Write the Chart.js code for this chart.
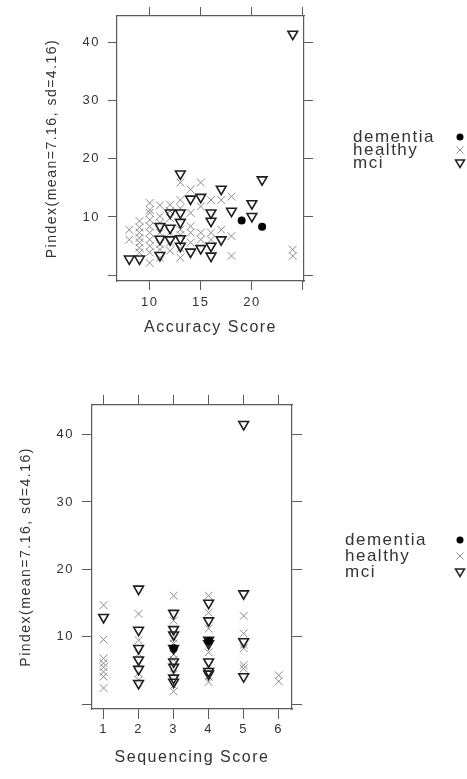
<!DOCTYPE html>
<html>
<head>
<meta charset="utf-8">
<script src="https://cdn.jsdelivr.net/npm/chart.js@4.4.1/dist/chart.umd.min.js"></script>
<style>
  body { margin: 0; background: #fff; }
  canvas { position: absolute; left: 0; }
  #accChart { top: 0; }
  #seqChart { top: 389px; }
</style>
</head>
<body>
<canvas id="accChart" width="467" height="389"></canvas>
<canvas id="seqChart" width="467" height="390"></canvas>
<script>
// groups and ticks
var groups = ['dementia', 'healthy', 'mci'];
var pindexTicks = [0, 10, 20, 30, 40];
var accuracyTicks = [10, 15, 20, 25];
var sequencingTicks = [1, 2, 3, 4, 5, 6];

// Accuracy Score panel
var accDementiaX = [19, 21];
var accDementiaY = [9.4, 8.3];
var accHealthyX = [8, 8,
  9, 9, 9, 9, 9, 9, 9,
  10, 10, 10, 10, 10, 10, 10, 10, 10, 10,
  11, 11, 11, 11, 11, 11, 11,
  12, 12, 12, 12, 12, 12,
  13, 13, 13, 13, 13, 13, 13,
  14, 14, 14, 14, 14,
  15, 15, 15, 15,
  16, 16, 16,
  17, 17,
  18, 18, 18,
  24, 24];
var accHealthyY = [7.8, 6.1,
  9.3, 8.2, 7.3, 6.4, 5.6, 4.7, 3.9,
  12.4, 11.2, 10.7, 9.5, 8.4, 7.3, 6.1, 5.0, 3.9, 2.1,
  12.0, 10.1, 9.0, 7.3, 5.3, 4.4, 3.0,
  12.1, 11.0, 9.8, 7.3, 5.6, 4.2,
  15.9, 12.9, 11.5, 7.8, 6.9, 4.6, 3.0,
  14.7, 10.7, 8.4, 7.3, 5.6,
  15.9, 11.8, 7.3, 6.1,
  12.9, 7.3, 6.1,
  12.9, 7.8,
  13.5, 6.7, 3.3,
  4.4, 3.3];
var accMciX = [24, 8, 9, 11, 16, 14, 15, 16, 17, 11, 12, 13, 13, 11, 12, 12, 13, 13, 16, 16, 18, 20, 20, 21, 17, 15, 14, 13];
var accMciY = [41.4, 2.8, 2.8, 3.4, 3.3, 4.0, 4.6, 5.0, 6.1, 6.2, 6.1, 6.3, 5.0, 8.4, 8.1, 10.7, 10.7, 9.1, 10.7, 9.3, 11.0, 12.3, 10.1, 16.4, 14.8, 13.4, 13.1, 17.4];

// Sequencing Score panel
var seqDementiaX = [4, 3];
var seqDementiaY = [9.4, 8.3];
var seqHealthyX = [1, 1, 1, 1, 1, 1, 1, 1,
  2, 2, 2, 2, 2, 2,
  3, 3, 3, 3, 3, 3, 3, 3, 3,
  4, 4, 4, 4, 4, 4, 4,
  5, 5, 5, 5, 5, 5,
  6, 6];
var seqHealthyY = [14.7, 9.6, 6.8, 6.1, 5.5, 4.8, 4.1, 2.4,
  13.4, 9.5, 7.5, 6.0, 4.6, 3.6,
  16.1, 12.4, 9.8, 9.0, 7.4, 6.6, 4.5, 2.8, 1.9,
  16.1, 13.6, 11.2, 7.7, 5.7, 4.1, 3.3,
  13.1, 10.5, 8.8, 8.3, 5.8, 5.3,
  4.3, 3.4];
var seqMciX = [1,
  2, 2, 2, 2, 2, 2,
  3, 3, 3, 3, 3, 3, 3, 3,
  4, 4, 4, 4, 4, 4, 4,
  5, 5, 5, 5];
var seqMciY = [12.9,
  17.1, 11.0, 8.3, 6.6, 5.2, 3.1,
  13.5, 11.1, 10.3, 8.3, 6.3, 5.5, 3.9, 3.3,
  15.0, 12.4, 9.5, 9.0, 6.3, 4.9, 4.5,
  41.5, 16.4, 9.3, 4.1];

var FONT = '"Liberation Sans", Arial, sans-serif';
var GREY = '#5a5a5a';
var TEXT = '#333';

function pts(xs, ys) {
  return xs.map(function (x, i) { return { x: x, y: ys[i] }; });
}

function fixedTicks(list) {
  return function (scale) {
    scale.ticks = list.map(function (v) { return { value: v }; });
  };
}

function fixSize(w, h) {
  return function (scale) {
    if (w != null) scale.width = w;
    if (h != null) scale.height = h;
  };
}

function drawSymbol(ctx, g, x, y) {
  ctx.save();
  ctx.beginPath();
  if (g === 'dementia') {
    ctx.fillStyle = '#000';
    ctx.arc(x, y, 3.5, 0, Math.PI * 2);
    ctx.fill();
  } else if (g === 'healthy') {
    ctx.strokeStyle = '#8c8c8c';
    ctx.lineWidth = 1;
    ctx.moveTo(x - 3.5, y - 3.5); ctx.lineTo(x + 3.5, y + 3.5);
    ctx.moveTo(x - 3.5, y + 3.5); ctx.lineTo(x + 3.5, y - 3.5);
    ctx.stroke();
  } else {
    ctx.strokeStyle = '#222';
    ctx.lineWidth = 1.5;
    ctx.moveTo(x - 4.5, y - 3); ctx.lineTo(x + 4.5, y - 3); ctx.lineTo(x, y + 4.5);
    ctx.closePath();
    ctx.stroke();
  }
  ctx.restore();
}

// wider letter spacing like the original
var spacing = {
  id: 'spacing',
  beforeLayout: function (chart) { chart.ctx.letterSpacing = '1.5px'; },
  beforeDraw: function (chart) { chart.ctx.letterSpacing = '1.5px'; }
};

function keyPlugin(textX, symX, midY, gap) {
  return {
    id: 'key',
    afterDraw: function (chart) {
      var ctx = chart.ctx;
      ctx.save();
      ctx.font = '17px ' + FONT;
      ctx.letterSpacing = '1.5px';
      ctx.fillStyle = TEXT;
      ctx.textBaseline = 'middle';
      ctx.textAlign = 'left';
      groups.forEach(function (g, i) {
        var y = midY + (i - 1) * gap;
        ctx.fillText(g, textX, y);
        drawSymbol(ctx, g, symX, y);
      });
      ctx.restore();
    }
  };
}

function makePanel(id, p) {
  var axisGrid = { display: true, drawOnChartArea: false, drawTicks: true, tickLength: p.tickLen, color: GREY, lineWidth: 1 };
  var axisBorder = { display: true, color: GREY, width: 1.2 };
  new Chart(document.getElementById(id), {
    type: 'scatter',
    data: {
      datasets: [
        {
          label: 'dementia', data: p.dementia,
          pointStyle: 'circle', pointRadius: 4,
          backgroundColor: '#000', borderColor: '#000', borderWidth: 0
        },
        {
          label: 'mci', data: p.mci,
          pointStyle: 'triangle', pointRotation: 180, pointRadius: 5.6,
          backgroundColor: 'rgba(0,0,0,0)', borderColor: '#1e1e1e', borderWidth: 1.6
        },
        {
          label: 'healthy', data: p.healthy,
          pointStyle: 'crossRot', pointRadius: 5.5,
          backgroundColor: 'rgba(0,0,0,0)', borderColor: '#8c8c8c', borderWidth: 1
        }
      ]
    },
    options: {
      responsive: false,
      animation: false,
      events: [],
      layout: { padding: 0 },
      plugins: { legend: { display: false }, tooltip: { enabled: false } },
      scales: {
        x: {
          type: 'linear', position: 'bottom', min: p.xMin, max: p.xMax,
          afterBuildTicks: fixedTicks(p.xTicks),
          afterFit: fixSize(null, p.bottomH),
          grid: axisGrid, border: axisBorder,
          ticks: {
            color: TEXT, font: { family: FONT, size: 13 }, padding: p.xTickPad,
            maxRotation: 0, autoSkip: false,
            callback: function (v) { return p.xHidden.indexOf(v) >= 0 ? '' : String(v); }
          },
          title: {
            display: true, text: p.xTitle, color: TEXT,
            font: { family: FONT, size: 16 }, padding: { top: 0, bottom: p.xTitlePad }
          }
        },
        x2: {
          type: 'linear', position: 'top', min: p.xMin, max: p.xMax,
          afterBuildTicks: fixedTicks(p.xTicks),
          afterFit: fixSize(null, p.topH),
          grid: axisGrid, border: axisBorder,
          ticks: { display: false }
        },
        y: {
          type: 'linear', position: 'left', min: p.yMin, max: p.yMax,
          afterBuildTicks: fixedTicks(pindexTicks),
          afterFit: fixSize(p.leftW, null),
          grid: axisGrid, border: axisBorder,
          ticks: {
            color: TEXT, font: { family: FONT, size: 13 }, padding: p.yTickPad,
            callback: function (v) { return v === 0 ? '' : String(v); }
          },
          title: {
            display: true, text: 'Pindex(mean=7.16, sd=4.16)', color: TEXT,
            font: { family: FONT, size: 14 }, padding: { top: p.yTitlePad, bottom: 0 }
          }
        },
        y2: {
          type: 'linear', position: 'right', min: p.yMin, max: p.yMax,
          afterBuildTicks: fixedTicks(pindexTicks),
          afterFit: fixSize(p.rightW, null),
          grid: axisGrid, border: axisBorder,
          ticks: { display: false }
        }
      }
    },
    plugins: [spacing, keyPlugin(p.keyX, p.keySymX, p.keyY, p.keyGap)]
  });
}

makePanel('accChart', {
  dementia: pts(accDementiaX, accDementiaY),
  healthy: pts(accHealthyX, accHealthyY),
  mci: pts(accMciX, accMciY),
  xMin: 6.8, xMax: 25.1, yMin: -1, yMax: 44.5,
  xTicks: accuracyTicks, xHidden: [25], xTitle: 'Accuracy Score',
  leftW: 117, rightW: 163, topH: 16, bottomH: 108,
  tickLen: 9, xTickPad: 5, yTickPad: 8,
  xTitlePad: 52, yTitlePad: 44,
  keyX: 353, keySymX: 460, keyY: 150, keyGap: 13
});

makePanel('seqChart', {
  dementia: pts(seqDementiaX, seqDementiaY),
  healthy: pts(seqHealthyX, seqHealthyY),
  mci: pts(seqMciX, seqMciY),
  xMin: 0.67, xMax: 6.38, yMin: -0.7, yMax: 44.4,
  xTicks: sequencingTicks, xHidden: [], xTitle: 'Sequencing Score',
  leftW: 92, rightW: 175, topH: 14, bottomH: 70,
  tickLen: 10, xTickPad: 3, yTickPad: 8,
  xTitlePad: 12, yTitlePad: 18,
  keyX: 345, keySymX: 460, keyY: 167, keyGap: 16
});
</script>
</body>
</html>
